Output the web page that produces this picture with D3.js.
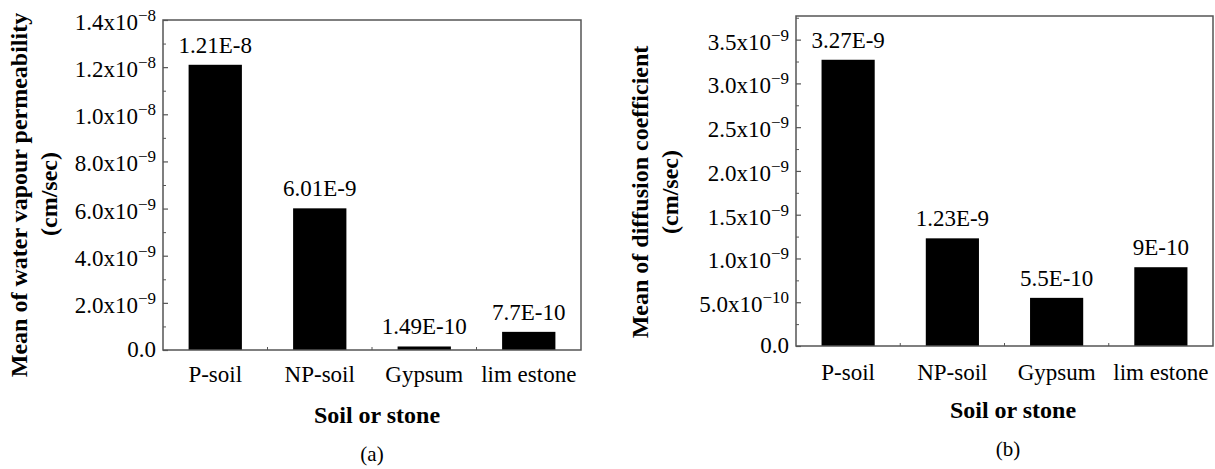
<!DOCTYPE html>
<html>
<head>
<meta charset="utf-8">
<script src="https://cdn.jsdelivr.net/npm/d3@7"></script>
<style>
  html, body { margin: 0; padding: 0; background: #fff; }
  svg { display: block; }
</style>
</head>
<body>
<svg id="chart" width="1215" height="469"></svg>
<script>
// Materials shared by both panels
const categories = ["P-soil", "NP-soil", "Gypsum", "lim estone"];

// (a) mean water vapour permeability, cm/sec
const permeability = [1.21e-8, 6.01e-9, 1.49e-10, 7.7e-10];
const permeabilityLabels = ["1.21E-8", "6.01E-9", "1.49E-10", "7.7E-10"];
const permeabilityTicks = [0, 2e-9, 4e-9, 6e-9, 8e-9, 1e-8, 1.2e-8, 1.4e-8];
const permeabilityMax = 1.4e-8;

// (b) mean diffusion coefficient, cm/sec
const diffusion = [3.27e-9, 1.23e-9, 5.5e-10, 9e-10];
const diffusionLabels = ["3.27E-9", "1.23E-9", "5.5E-10", "9E-10"];
const diffusionTicks = [0, 5e-10, 1e-9, 1.5e-9, 2e-9, 2.5e-9, 3e-9, 3.5e-9];
const diffusionMax = 3.77e-9;

const FONT = "Liberation Serif";
const svg = d3.select("#chart");

function addText(parent, x, y, str, size, opts = {}) {
  const t = parent.append("text")
    .attr("x", x).attr("y", y)
    .attr("font-family", FONT)
    .attr("font-size", size)
    .attr("fill", "#000")
    .attr("text-anchor", opts.anchor || "middle");
  if (opts.bold) t.attr("font-weight", "bold");
  if (opts.rotate) t.attr("x", null).attr("y", null)
    .attr("transform", `translate(${x},${y}) rotate(-90)`);
  if (str !== null) t.text(str);
  return t;
}

// "1.4x10^-8" style label: mantissa with a raised exponent
function sciLabel(t, v) {
  if (v === 0) { t.text("0.0"); return; }
  const [m, e] = v.toExponential(1).split("e");
  t.append("tspan").attr("font-family", FONT).text(m + "x10");
  t.append("tspan").attr("font-family", FONT).attr("font-size", 17).attr("dy", -9)
    .text("\u2212" + String(Math.abs(+e)));
}

function panel(cfg) {
  const { left, right, top, bottom, values, labels, ticks, max, title, titleX, titleY,
          unitX, unitY, xTitleX, xTitleY, capX, capY, caption, catY } = cfg;
  const g = svg.append("g");

  const x = d3.scaleBand().domain(categories).range([left, right]).paddingInner(0.49).paddingOuter(0.245);
  const y = d3.scaleLinear().domain([0, max]).range([bottom, top]);

  // bars
  values.forEach((v, i) => {
    g.append("rect")
      .attr("x", x(categories[i]))
      .attr("width", x.bandwidth())
      .attr("y", y(v))
      .attr("height", y(0) - y(v))
      .attr("fill", "#000");
  });

  // value labels above bars
  values.forEach((v, i) => {
    addText(g, x(categories[i]) + x.bandwidth() / 2, y(v) - 12, labels[i], 23);
  });

  // frame
  g.append("rect")
    .attr("x", left).attr("y", top)
    .attr("width", right - left).attr("height", bottom - top)
    .attr("fill", "none").attr("stroke", "#555").attr("stroke-width", 1.5);

  // left axis: inward major ticks plus minor ticks halfway between
  const step = ticks[1] - ticks[0];
  const minor = ticks.map(t => t + step / 2).filter(t => t < max);
  const ya = g.append("g").attr("transform", `translate(${left},0)`)
    .call(d3.axisRight(y).tickValues(ticks).tickSize(5).tickFormat(""));
  ya.select(".domain").remove();
  ya.selectAll("line").attr("stroke", "#555").attr("stroke-width", 1.2);
  const ym = g.append("g").attr("transform", `translate(${left},0)`)
    .call(d3.axisRight(y).tickValues(minor).tickSize(3).tickFormat(""));
  ym.select(".domain").remove();
  ym.selectAll("line").attr("stroke", "#555").attr("stroke-width", 1);

  // tick labels
  ticks.forEach(v => {
    const t = addText(g, left - 7, y(v) + (v === 0 ? 7 : 10), null, 23, { anchor: "end" });
    sciLabel(t, v);
  });

  // bottom axis: small inward ticks at category boundaries
  categories.slice(1).forEach(c => {
    const bx = x(c) - x.step() * x.paddingInner() / 2;
    g.append("line")
      .attr("x1", bx).attr("x2", bx)
      .attr("y1", bottom).attr("y2", bottom - 3)
      .attr("stroke", "#555").attr("stroke-width", 1);
  });

  categories.forEach(c => addText(g, x(c) + x.bandwidth() / 2, catY, c, 23));

  // axis titles and panel caption
  addText(g, titleX, titleY, title, 24, { bold: true, rotate: true });
  addText(g, unitX, unitY, "(cm/sec)", 24, { bold: true, rotate: true });
  addText(g, xTitleX, xTitleY, "Soil or stone", 24, { bold: true });
  addText(g, capX, capY, caption, 21);
}

panel({
  left: 163, right: 581, top: 20, bottom: 350,
  values: permeability, labels: permeabilityLabels, ticks: permeabilityTicks, max: permeabilityMax,
  title: "Mean of water vapour permeability", titleX: 27, titleY: 195,
  unitX: 57, unitY: 194,
  xTitleX: 377, xTitleY: 423, capX: 372, capY: 461, caption: "(a)", catY: 382
});

panel({
  left: 796, right: 1213, top: 16, bottom: 346,
  values: diffusion, labels: diffusionLabels, ticks: diffusionTicks, max: diffusionMax,
  title: "Mean of diffusion coefficient", titleX: 648, titleY: 192,
  unitX: 678, unitY: 192,
  xTitleX: 1013, xTitleY: 418, capX: 1008, capY: 456, caption: "(b)", catY: 380
});
</script>
</body>
</html>
